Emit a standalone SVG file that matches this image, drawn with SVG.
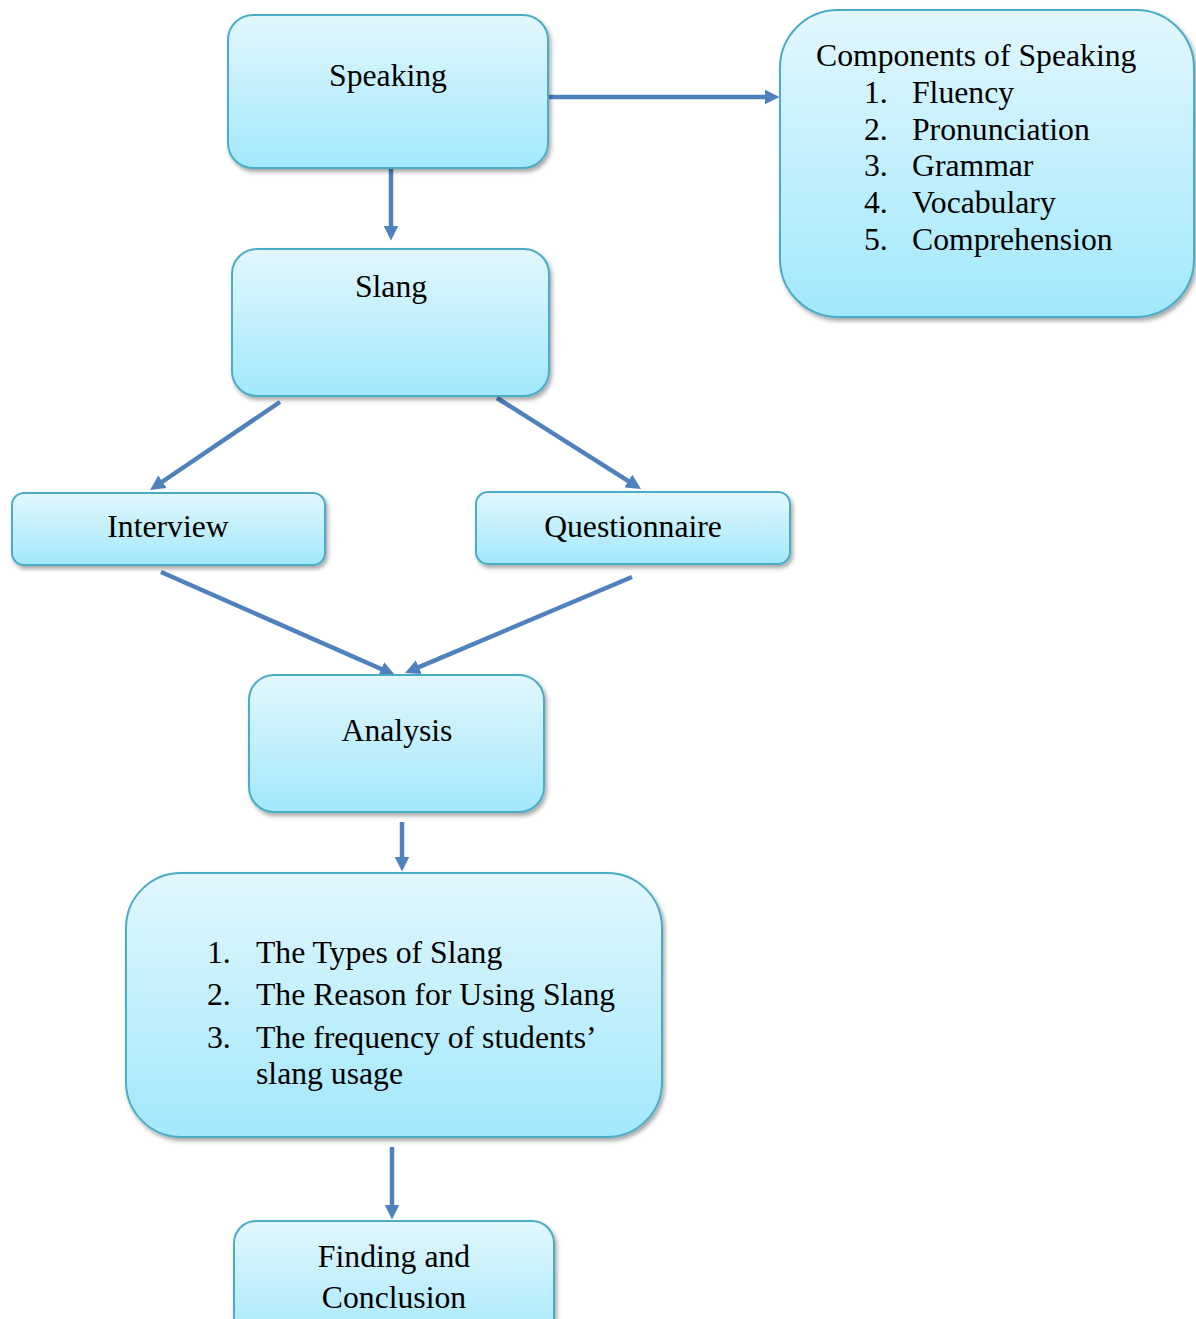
<svg xmlns="http://www.w3.org/2000/svg" width="1196" height="1319" viewBox="0 0 1196 1319">
<defs>
<linearGradient id="g" x1="0" y1="0" x2="0" y2="1">
<stop offset="0" stop-color="#e2f7fd"/>
<stop offset="1" stop-color="#a2e8fc"/>
</linearGradient>
<filter id="sh" x="-10%" y="-10%" width="120%" height="125%">
<feDropShadow dx="2" dy="3" stdDeviation="2" flood-color="#000" flood-opacity="0.35"/>
</filter>
<marker id="ah" markerUnits="userSpaceOnUse" markerWidth="15" markerHeight="15" viewBox="0 0 12 12" refX="2" refY="6" orient="auto">
<path d="M0,0 L12,6 L0,12 z" fill="#4f81bd"/>
</marker>
</defs>
<style>
.box{fill:url(#g);stroke:#4bacc6;stroke-width:2;filter:url(#sh)}
.t{font-family:"Liberation Serif","Times New Roman",serif;font-size:31.7px;fill:#000}
.c{text-anchor:middle}
.ln{stroke:#4f81bd;stroke-width:4.5;fill:none;marker-end:url(#ah)}
</style>
<g id="connectors">
<line class="ln" x1="549" y1="97" x2="767" y2="97"/>
<line class="ln" x1="391" y1="169" x2="391" y2="228"/>
<line class="ln" x1="280" y1="402" x2="160.4" y2="483"/>
<line class="ln" x1="497" y1="398" x2="630.4" y2="482.3"/>
<line class="ln" x1="161" y1="572" x2="383.5" y2="670"/>
<line class="ln" x1="632" y1="577" x2="416.5" y2="668.1"/>
<line class="ln" x1="402" y1="822" x2="402" y2="859"/>
<line class="ln" x1="392" y1="1147" x2="392" y2="1207"/>
</g>
<g id="speaking">
<rect class="box" x="228" y="15" width="320" height="153" rx="25"/>
<text class="t c" x="388" y="86">Speaking</text>
</g>
<g id="components">
<rect class="box" x="780" y="10" width="414" height="307" rx="58"/>
<text class="t" x="816" y="66">Components of Speaking</text>
<text class="t" x="864" y="103">1.</text><text class="t" x="912" y="103">Fluency</text>
<text class="t" x="864" y="140">2.</text><text class="t" x="912" y="140">Pronunciation</text>
<text class="t" x="864" y="176">3.</text><text class="t" x="912" y="176">Grammar</text>
<text class="t" x="864" y="213">4.</text><text class="t" x="912" y="213">Vocabulary</text>
<text class="t" x="864" y="250">5.</text><text class="t" x="912" y="250">Comprehension</text>
</g>
<g id="slang">
<rect class="box" x="232" y="249" width="317" height="147" rx="25"/>
<text class="t c" x="391" y="297">Slang</text>
</g>
<g id="interview">
<rect class="box" x="12" y="493" width="313" height="72" rx="12"/>
<text class="t c" x="168" y="537">Interview</text>
</g>
<g id="questionnaire">
<rect class="box" x="476" y="492" width="314" height="72" rx="12"/>
<text class="t c" x="633" y="537">Questionnaire</text>
</g>
<g id="analysis">
<rect class="box" x="249" y="675" width="295" height="137" rx="25"/>
<text class="t c" x="397" y="741">Analysis</text>
</g>
<g id="results">
<rect class="box" x="126" y="873" width="536" height="264" rx="55"/>
<text class="t" x="207" y="963">1.</text><text class="t" x="256" y="963">The Types of Slang</text>
<text class="t" x="207" y="1005">2.</text><text class="t" x="256" y="1005">The Reason for Using Slang</text>
<text class="t" x="207" y="1048">3.</text><text class="t" x="256" y="1048">The frequency of students’</text>
<text class="t" x="256" y="1084">slang usage</text>
</g>
<g id="finding">
<rect class="box" x="234" y="1221" width="320" height="130" rx="22"/>
<text class="t c" x="394" y="1267">Finding and</text>
<text class="t c" x="394" y="1308">Conclusion</text>
</g>
</svg>
